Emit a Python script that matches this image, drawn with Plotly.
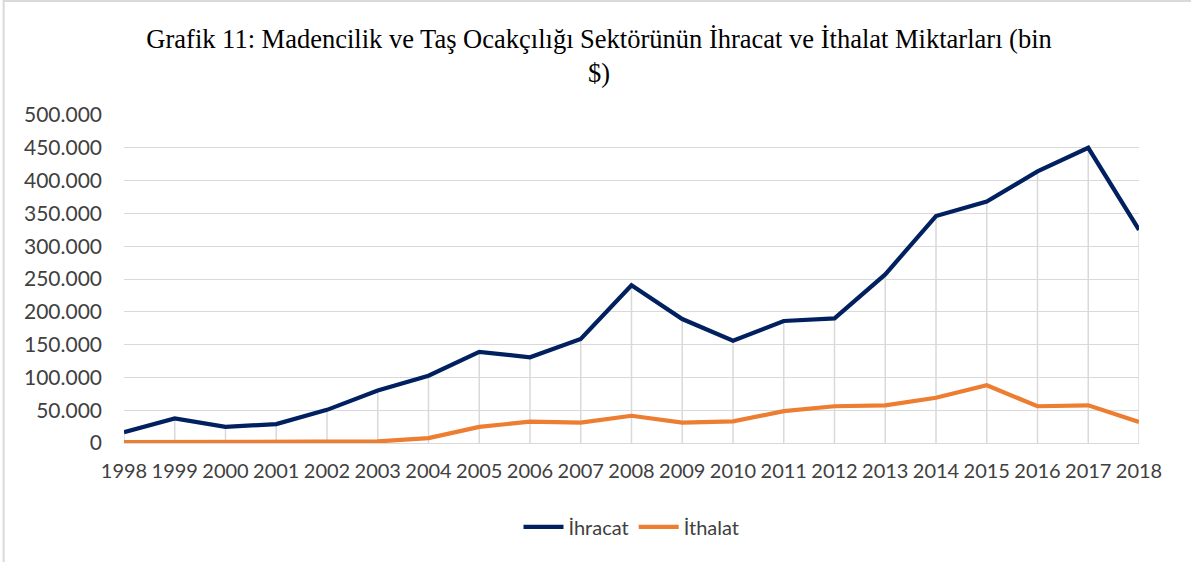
import plotly.graph_objects as go

years = [str(y) for y in range(1998, 2019)]
ihracat = [16500, 37500, 24700, 28800, 50500, 80000, 102500, 139000, 130600, 158500, 240500,
           189000, 156000, 186000, 190000, 257000, 346000, 368000, 414000, 450000, 325000]
ithalat = [1200, 1300, 1800, 800, 1200, 2500, 7500, 24500, 32500, 31000, 41500,
           31000, 33000, 48500, 56000, 57500, 69000, 88000, 56000, 57500, 32000]
y_ticks = [0, 50000, 100000, 150000, 200000, 250000, 300000, 350000, 400000, 450000, 500000]

title_text = "Grafik 11: Madencilik ve Taş Ocakçılığı Sektörünün İhracat ve İthalat Miktarları (bin<br>$)"

# drop lines from the highest series down to the axis
top = [max(a, b) for a, b in zip(ihracat, ithalat)]
drop_x, drop_y = [], []
for x, v in zip(years, top):
    drop_x += [x, x, None]
    drop_y += [0, v, None]

fig = go.Figure()
fig.add_trace(go.Scatter(x=drop_x, y=drop_y, mode="lines", showlegend=False, hoverinfo="skip",
                         line=dict(color="#d9d9d9", width=1.5)))
fig.add_trace(go.Scatter(x=years, y=ihracat, mode="lines", name="İhracat",
                         line=dict(color="#002060", width=4.2)))
fig.add_trace(go.Scatter(x=years, y=ithalat, mode="lines", name="İthalat",
                         line=dict(color="#ED7D31", width=4.2)))

fig.update_layout(
    width=1191, height=562,
    margin=dict(l=124, r=52, t=115, b=119),
    paper_bgcolor="white", plot_bgcolor="white",
    separators=",.",
    font=dict(family="Lato, Calibri, sans-serif", size=20, color="#404040"),
    title=dict(text=title_text, x=0.503, xanchor="center", y=0.915, yanchor="top",
               font=dict(family="Liberation Serif, Times New Roman, serif", size=26.5, color="#000000")),
    xaxis=dict(type="category", range=[0, 20], showgrid=False, showline=False, zeroline=False,
               ticks="", ticklabelstandoff=14, tickfont=dict(size=20, color="#404040")),
    yaxis=dict(range=[0, 500000], tickvals=y_ticks, tickformat=",.0f", showgrid=True,
               gridcolor="#d9d9d9", gridwidth=1.3, zeroline=True, zerolinecolor="#d9d9d9",
               zerolinewidth=1.3, showline=False, ticks="", ticklabelstandoff=21,
               tickfont=dict(size=21, color="#404040")),
    legend=dict(orientation="h", x=0.5, xanchor="center", y=-0.256, yanchor="middle",
                font=dict(size=20, color="#404040"), itemwidth=40, traceorder="normal"),
    shapes=[
        dict(type="line", xref="paper", yref="paper", x0=-0.1186, x1=-0.1186, y0=-0.5, y1=1.6,
             line=dict(color="#d9d9d9", width=2), layer="below"),
    ],
)
# outer frame: top edge
fig.add_shape(type="line", xref="paper", yref="paper", x0=-0.1186, x1=1.1, y0=1.3476, y1=1.3476,
              line=dict(color="#d9d9d9", width=2))

fig.write_html("out.html")
